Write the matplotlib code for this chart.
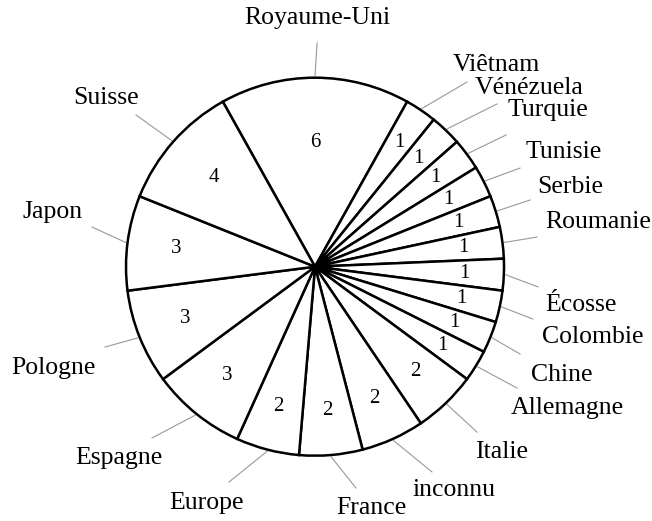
import matplotlib.pyplot as plt
import numpy as np

# data, in clockwise order starting from the top
countries = ['Royaume-Uni', 'Viêtnam', 'Vénézuela', 'Turquie', 'Tunisie', 'Serbie',
             'Roumanie', 'Écosse', 'Colombie', 'Chine', 'Allemagne', 'Italie',
             'inconnu', 'France', 'Europe', 'Espagne', 'Pologne', 'Japon', 'Suisse']
counts = [6, 1, 1, 1, 1, 1, 1, 1, 1, 1, 1, 2, 2, 2, 2, 3, 3, 3, 4]

# label layout (pie radius = 1): text centre and end of the leader line
text_xy = [(0.01, 1.316), (0.958, 1.067), (1.132, 0.945), (1.230, 0.829), (1.315, 0.607),
           (1.352, 0.422), (1.500, 0.237), (1.405, -0.203), (1.468, -0.372), (1.307, -0.573),
           (1.336, -0.748), (0.989, -0.980), (0.735, -1.181), (0.299, -1.277), (-0.574, -1.250),
           (-1.040, -1.012), (-1.384, -0.536), (-1.389, 0.289), (-1.103, 0.893)]
leader_end = [(0.011, 1.184), (0.804, 0.977), (0.963, 0.861), (1.011, 0.697), (1.085, 0.522),
              (1.138, 0.353), (1.175, 0.157), (1.180, -0.107), (1.153, -0.277), (1.085, -0.462),
              (1.069, -0.642), (0.857, -0.875), (0.619, -1.086), (0.217, -1.171), (-0.455, -1.139),
              (-0.862, -0.906), (-1.111, -0.425), (-1.180, 0.210), (-0.947, 0.803)]

plt.rcParams['font.family'] = ['Liberation Serif', 'DejaVu Serif']

fig = plt.figure(figsize=(6.52, 5.21), dpi=100)
ax = fig.add_axes([0, 0, 1, 1])

total = sum(counts)
start = 90 + 180 * counts[0] / total

wedges, _ = ax.pie(counts, startangle=start, counterclock=False, radius=1,
                   wedgeprops=dict(facecolor='white', edgecolor='black', linewidth=1.8))

for w, n, name, txy, lend in zip(wedges, counts, countries, text_xy, leader_end):
    mid = np.deg2rad((w.theta1 + w.theta2) / 2)
    # value inside the wedge
    r_in = 0.82 - 0.027 * n
    ax.text(r_in * np.cos(mid), r_in * np.sin(mid), str(n), ha='center', va='center',
            fontsize=15)
    # leader line and label
    ax.plot([1.01 * np.cos(mid), lend[0]], [1.01 * np.sin(mid), lend[1]],
            color='#999999', lw=0.8, zorder=0)
    ax.text(txy[0], txy[1], name, ha='center', va='center', fontsize=18.5)

ax.set_xlim(-315 / 189, 337 / 189)
ax.set_ylim(-254.3 / 189, 266.7 / 189)
ax.set_aspect('equal')
ax.axis('off')

fig.savefig('out.png', dpi=100)
